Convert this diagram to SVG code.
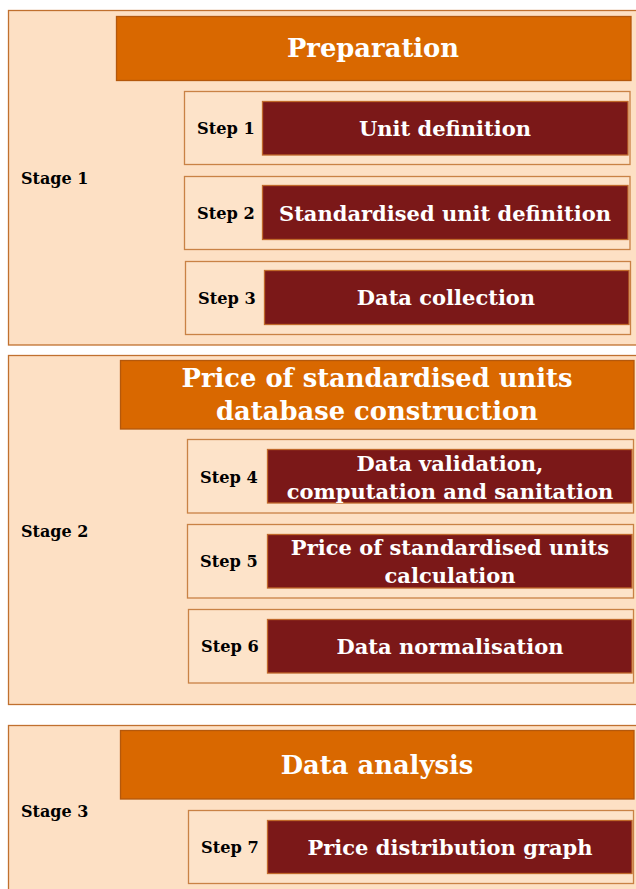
<svg xmlns="http://www.w3.org/2000/svg" width="636" height="889" viewBox="0 0 636 889">
<style>
.stage{fill:#fde0c4;stroke:#c0702f;stroke-width:1.3}
.head{fill:#d96800;stroke:#b4580c;stroke-width:1.3}
.step{fill:#fde3c9;stroke:#c98245;stroke-width:1.3}
.dark{fill:#7b1818;stroke:#c0682a;stroke-width:1.3}
text{font-family:"DejaVu Serif","Liberation Serif",serif;font-weight:bold;dominant-baseline:central}
.ht{fill:#fff;font-size:25.8px;text-anchor:middle}
.dt{fill:#fff;font-size:21px;text-anchor:middle}
.sl{fill:#000;font-size:16.2px}
.st{fill:#000;font-size:16px}
</style>
<rect width="636" height="889" fill="#fff"/>
<g id="stage1">
<rect class="stage" x="8.5" y="10.5" width="640" height="334.5"/>
<text class="st" x="21" y="178">Stage 1</text>
</g>
<g id="preparation">
<rect class="head" x="116.5" y="16.5" width="514.5" height="64"/>
<text class="ht" x="373" y="48">Preparation</text>
</g>
<g id="step1">
<rect class="step" x="184.5" y="91.5" width="445.5" height="73"/>
<text class="sl" x="197" y="128">Step 1</text>
<rect class="dark" x="262.5" y="101.5" width="365.5" height="53.5"/>
<text class="dt" x="445" y="128">Unit definition</text>
</g>
<g id="step2">
<rect class="step" x="184.5" y="176.5" width="445.5" height="73"/>
<text class="sl" x="197" y="213">Step 2</text>
<rect class="dark" x="262.5" y="185.5" width="365.5" height="54"/>
<text class="dt" x="445" y="213">Standardised unit definition</text>
</g>
<g id="step3">
<rect class="step" x="185.5" y="261.5" width="445" height="73"/>
<text class="sl" x="198" y="298">Step 3</text>
<rect class="dark" x="264.5" y="270.5" width="364.5" height="54"/>
<text class="dt" x="446" y="297">Data collection</text>
</g>
<g id="stage2">
<rect class="stage" x="8.5" y="355.5" width="640" height="349"/>
<text class="st" x="21" y="531">Stage 2</text>
</g>
<g id="database">
<rect class="head" x="120.5" y="360.5" width="513.5" height="68.5"/>
<text class="ht" x="377" y="378">Price of standardised units</text>
<text class="ht" x="377" y="411">database construction</text>
</g>
<g id="step4">
<rect class="step" x="187.5" y="439.5" width="446" height="73.5"/>
<text class="sl" x="200" y="477">Step 4</text>
<rect class="dark" x="267.5" y="449.5" width="364.5" height="53.5"/>
<text class="dt" x="450" y="463">Data validation,</text>
<text class="dt" x="450" y="491">computation and sanitation</text>
</g>
<g id="step5">
<rect class="step" x="187.5" y="524.5" width="446" height="73.5"/>
<text class="sl" x="200" y="561">Step 5</text>
<rect class="dark" x="267.5" y="534.5" width="364.5" height="53.5"/>
<text class="dt" x="450" y="547">Price of standardised units</text>
<text class="dt" x="450" y="575">calculation</text>
</g>
<g id="step6">
<rect class="step" x="188.5" y="609.5" width="445" height="73.5"/>
<text class="sl" x="201" y="646">Step 6</text>
<rect class="dark" x="267.5" y="619.5" width="364.5" height="53.5"/>
<text class="dt" x="450" y="646">Data normalisation</text>
</g>
<g id="stage3">
<rect class="stage" x="8.5" y="725.5" width="640" height="180"/>
<text class="st" x="21" y="811">Stage 3</text>
</g>
<g id="analysis">
<rect class="head" x="120.5" y="730.5" width="513.5" height="68.5"/>
<text class="ht" x="377" y="765">Data analysis</text>
</g>
<g id="step7">
<rect class="step" x="188.5" y="810.5" width="445" height="73"/>
<text class="sl" x="201" y="847">Step 7</text>
<rect class="dark" x="267.5" y="820.5" width="364.5" height="53"/>
<text class="dt" x="450" y="847">Price distribution graph</text>
</g>
<g id="connectors"/>
</svg>
